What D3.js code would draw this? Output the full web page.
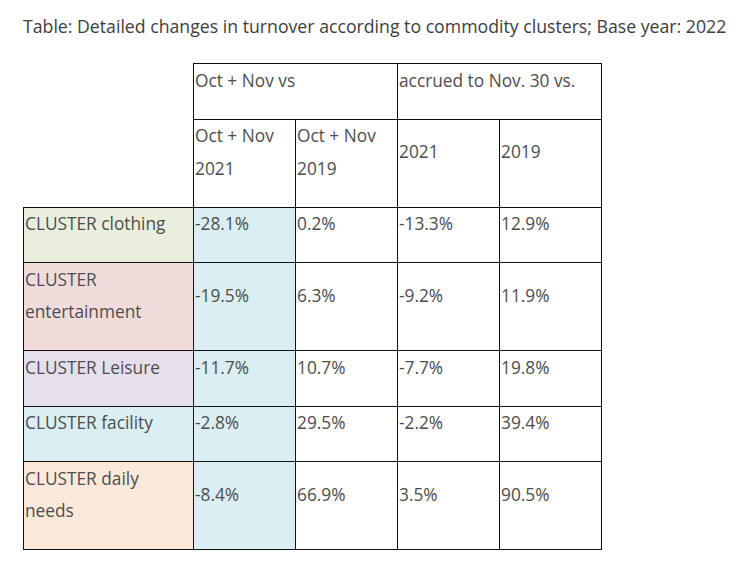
<!DOCTYPE html>
<html>
<head>
<meta charset="utf-8">
<script src="https://cdn.jsdelivr.net/npm/d3@7"></script>
<style>
  html, body { margin: 0; padding: 0; background: #fff; }
  svg text { font-family: "Open Sans", "Lato", sans-serif; fill: #4d4d4d; }
</style>
</head>
<body>
<svg id="chart" width="739" height="563"></svg>
<script>
// ---- data ----
const title = "Table: Detailed changes in turnover according to commodity clusters; Base year: 2022";
const groupHeaders = ["Oct + Nov vs", "accrued to Nov. 30 vs."];
const subHeaders = [["Oct + Nov", "2021"], ["Oct + Nov", "2019"], ["2021"], ["2019"]];
const clusterLines = [
  ["CLUSTER clothing"],
  ["CLUSTER", "entertainment"],
  ["CLUSTER Leisure"],
  ["CLUSTER facility"],
  ["CLUSTER daily", "needs"]
];
const octNovVs2021 = [-28.1, -19.5, -11.7, -2.8, -8.4];
const octNovVs2019 = [0.2, 6.3, 10.7, 29.5, 66.9];
const accruedVs2021 = [-13.3, -9.2, -7.7, -2.2, 3.5];
const accruedVs2019 = [12.9, 11.9, 19.8, 39.4, 90.5];
const clusterColors = ["#eaeedd", "#f2dcdb", "#e5e0ec", "#dbeef3", "#fde9d9"];
const firstValueColor = "#dbeef3";

// ---- layout ----
const svg = d3.select("#chart");
const tblLeft = 23, tblTop = 63;
const colWidths = [170, 102, 102, 102, 102];
const lineH = 32.5, padBottom = 23, padLeft = 2, baseOff = 23.5;
const fontSize = 17.3;

const colEdges = d3.cumsum([tblLeft].concat(colWidths));
const xPos = i => colEdges[i];

const series = [octNovVs2021, octNovVs2019, accruedVs2021, accruedVs2019];
const locale = d3.formatLocale({decimal: ".", thousands: ",", grouping: [3], currency: ["", ""], minus: "-"});
const fmt = v => locale.format(".1f")(v) + "%";

const rowLines = [1, d3.max(subHeaders, d => d.length)].concat(clusterLines.map(d => d.length));
const rowHeights = rowLines.map(n => n * lineH + padBottom);
const rowEdges = d3.cumsum([tblTop].concat(rowHeights));
const snap = v => Math.round(v) + 0.5;

svg.append("text")
  .attr("x", tblLeft).attr("y", 33)
  .style("font-size", "17.7px").style("fill", "#3d3d3d")
  .text(title);

const cells = [];
groupHeaders.forEach((h, i) => cells.push({r: 0, c0: 1 + 2 * i, c1: 3 + 2 * i, lines: [h], fill: "#fff"}));
subHeaders.forEach((h, i) => cells.push({r: 1, c0: 1 + i, c1: 2 + i, lines: h, fill: "#fff"}));
clusterLines.forEach((lines, j) => {
  cells.push({r: 2 + j, c0: 0, c1: 1, lines: lines, fill: clusterColors[j]});
  series.forEach((s, i) => cells.push({
    r: 2 + j, c0: 1 + i, c1: 2 + i, lines: [fmt(s[j])],
    fill: i === 0 ? firstValueColor : "#fff"
  }));
});

const g = svg.selectAll("g.cell").data(cells).join("g").attr("class", "cell");
g.append("rect")
  .attr("x", d => snap(xPos(d.c0)))
  .attr("y", d => snap(rowEdges[d.r]))
  .attr("width", d => snap(xPos(d.c1)) - snap(xPos(d.c0)))
  .attr("height", d => snap(rowEdges[d.r + 1]) - snap(rowEdges[d.r]))
  .attr("fill", d => d.fill)
  .attr("stroke", "#111")
  .attr("stroke-width", 1)
  .attr("shape-rendering", "crispEdges");

g.each(function(d) {
  const h = rowHeights[d.r] - padBottom;
  const used = d.lines.length * lineH;
  const off = (h - used) / 2;
  d3.select(this).selectAll("text").data(d.lines).join("text")
    .attr("x", xPos(d.c0) + padLeft)
    .attr("y", (t, k) => rowEdges[d.r] + off + k * lineH + baseOff)
    .style("font-size", fontSize + "px")
    .text(t => t);
});
</script>
</body>
</html>
